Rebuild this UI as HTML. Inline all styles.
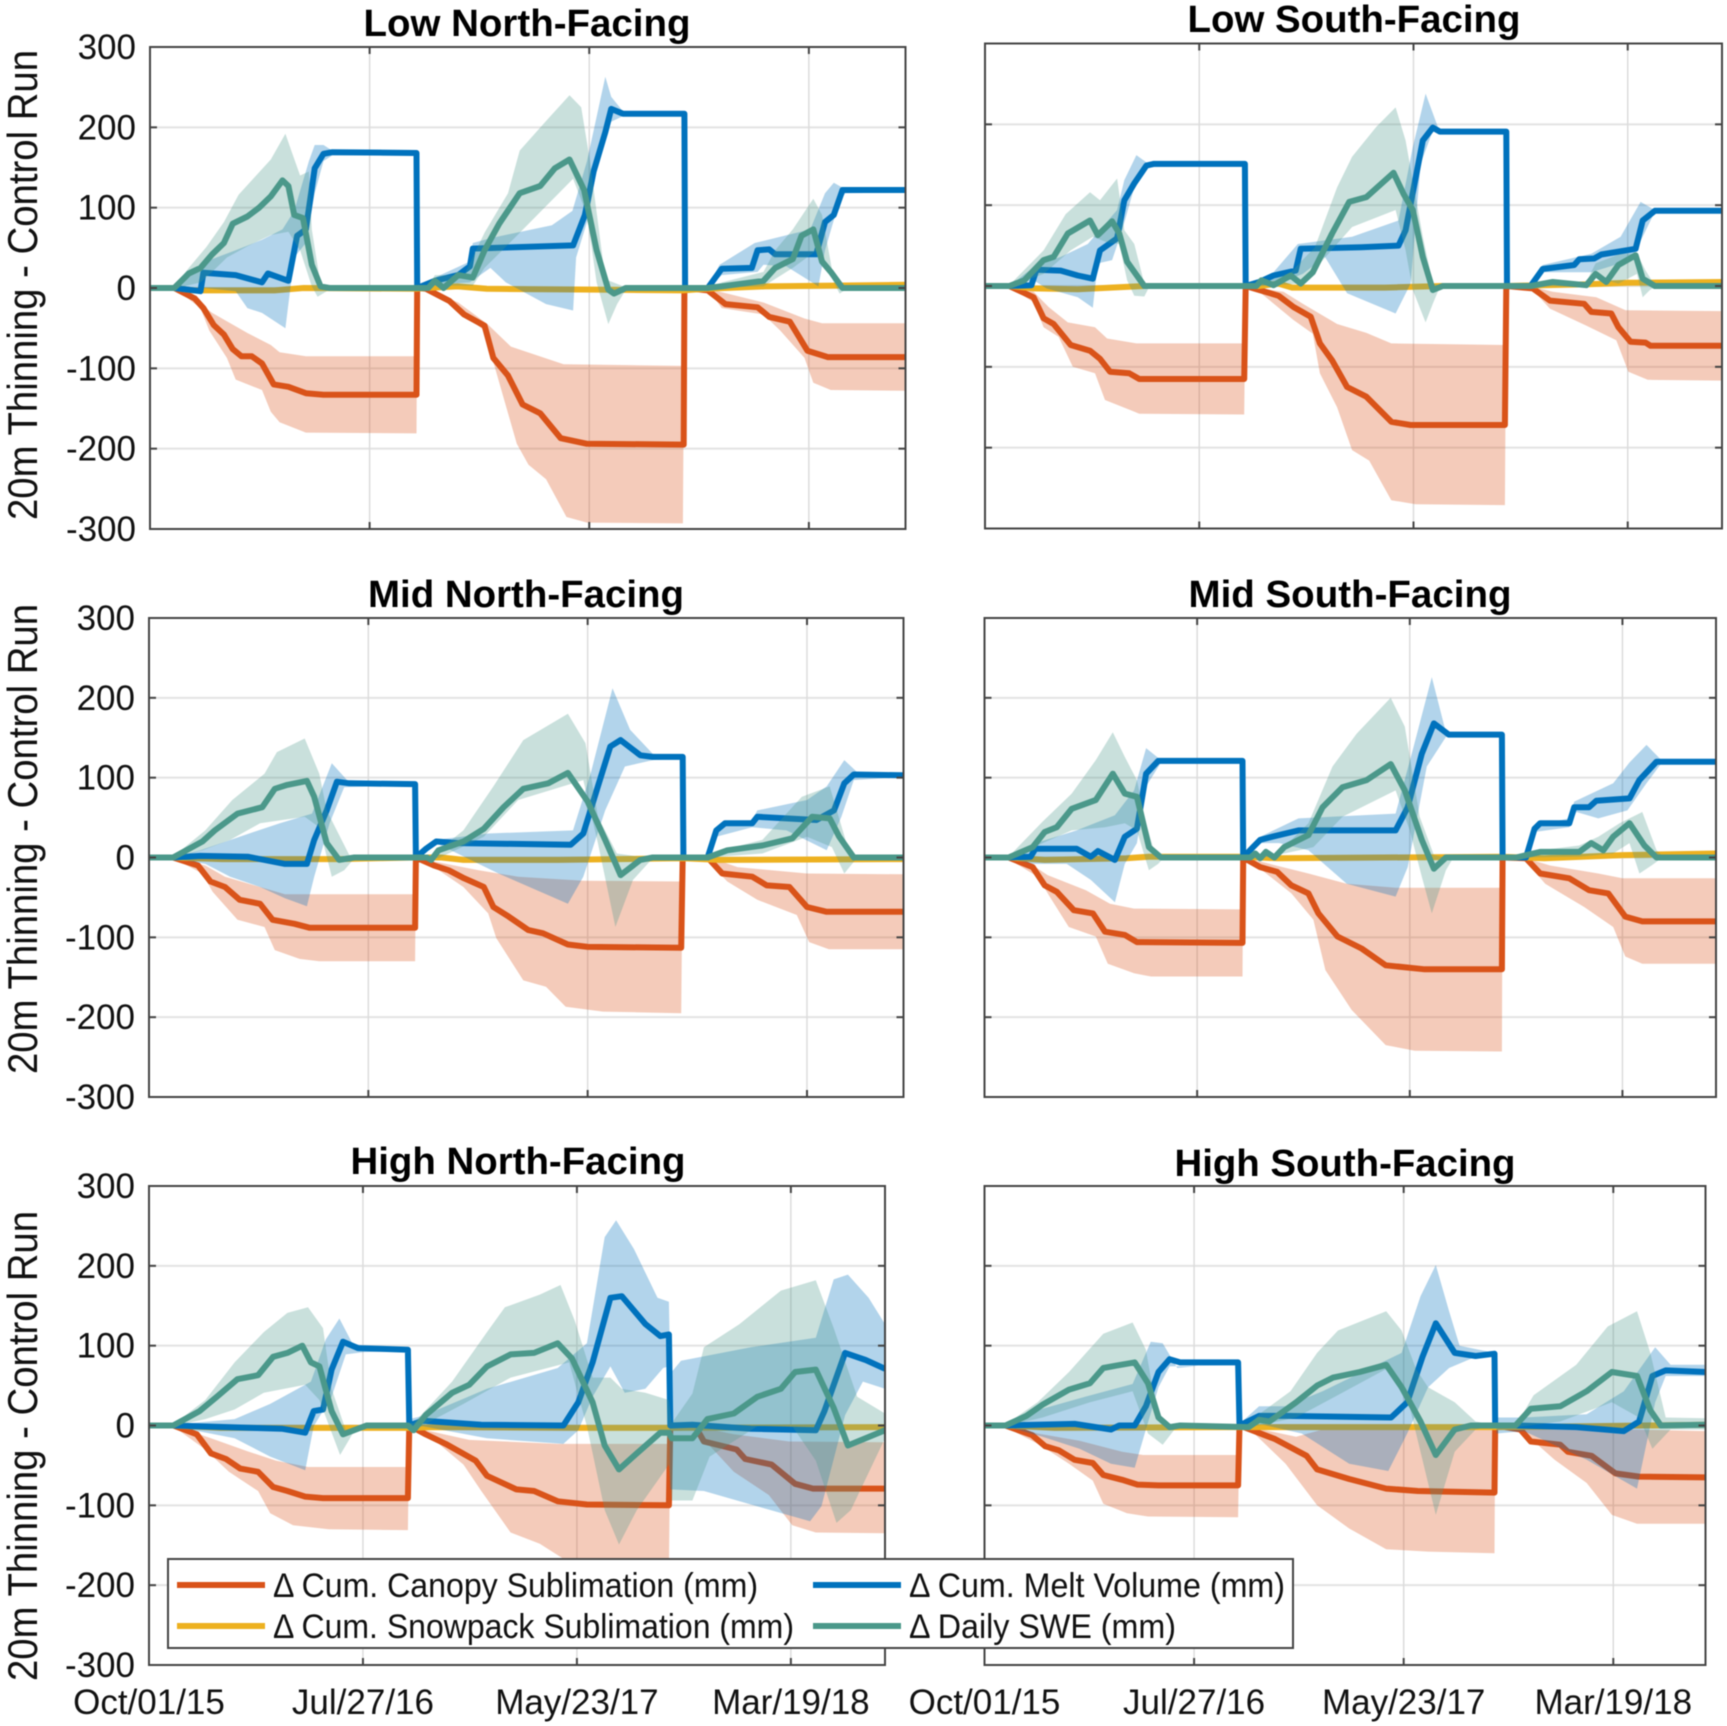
<!DOCTYPE html>
<html lang="en">
<head>
<meta charset="utf-8">
<title>20m Thinning minus Control Run</title>
<style>
html,body{margin:0;padding:0;background:#fff;}
svg{display:block;font-family:"Liberation Sans",sans-serif;filter:blur(0.5px);}
</style>
</head>
<body>
<svg id="figure" xmlns="http://www.w3.org/2000/svg" width="1727" height="1726" viewBox="0 0 1727 1726">
<rect x="0" y="0" width="1727" height="1726" fill="#ffffff"/>
<defs id="clip-defs"></defs>
<g id="panels"></g>
<g>
<rect x="168" y="1559" width="1125" height="89" fill="#ffffff" stroke="#444444" stroke-width="2"/>
<line x1="177" y1="1585" x2="265" y2="1585" stroke="#D95319" stroke-width="6"/>
<line x1="177" y1="1626" x2="265" y2="1626" stroke="#EDB120" stroke-width="6"/>
<line x1="813" y1="1585" x2="901" y2="1585" stroke="#0072BD" stroke-width="6"/>
<line x1="813" y1="1626" x2="901" y2="1626" stroke="#4B988A" stroke-width="6"/>
<text x="273" y="1597" font-size="34" textLength="485" lengthAdjust="spacingAndGlyphs" fill="#111">Δ Cum. Canopy Sublimation (mm)</text>
<text x="273" y="1638" font-size="34" textLength="521" lengthAdjust="spacingAndGlyphs" fill="#111">Δ Cum. Snowpack Sublimation (mm)</text>
<text x="909" y="1597" font-size="34" textLength="376" lengthAdjust="spacingAndGlyphs" fill="#111">Δ Cum. Melt Volume (mm)</text>
<text x="909" y="1638" font-size="34" textLength="267" lengthAdjust="spacingAndGlyphs" fill="#111">Δ Daily SWE (mm)</text>
</g>
</svg>
<script>
// Axis ticks
const yTickValues = [-300, -200, -100, 0, 100, 200, 300];
const xTickDays = [0, 300, 600, 900];
const xTickLabels = ['Oct/01/15', 'Jul/27/16', 'May/23/17', 'Mar/19/18'];
const yAxisLabel = '20m Thinning - Control Run';
const xDomainDays = 1032;

// Series values: flat day,value lists (days since Oct 1 2015, mm)
// --- Low North-Facing ---
const lowNorthCanopy = [0,0, 33,0, 61,-13, 73,-25, 87,-46, 101,-58, 113,-76, 125,-85, 139,-85, 153,-94, 169,-120, 189,-123, 213,-131, 237,-133, 364,-133, 365,0, 377,-1, 409,-16, 429,-33, 457,-47, 469,-87, 489,-109, 509,-145, 533,-156, 561,-187, 597,-194, 729,-195, 730,0, 762,-3, 786,-20, 830,-24, 846,-36, 874,-42, 898,-78, 926,-86, 1032,-86];
const lowNorthCanopyHi = [33,0, 69,-20, 85,-31, 133,-56, 165,-71, 177,-80, 213,-85, 364,-85, 365,0, 377,-1, 421,-18, 461,-45, 493,-73, 565,-95, 728,-97, 730,0, 762,-1, 838,-18, 894,-38, 918,-44, 1032,-44];
const lowNorthCanopyLo = [33,0, 69,-25, 81,-53, 105,-87, 117,-114, 153,-127, 165,-154, 177,-167, 213,-180, 364,-181, 365,0, 377,-3, 409,-20, 457,-53, 473,-105, 501,-194, 517,-220, 541,-238, 569,-285, 597,-292, 728,-293, 730,0, 762,-1, 781,-25, 838,-33, 861,-53, 894,-87, 906,-118, 930,-127, 1032,-128];
const lowNorthSnow = [0,0, 33,0, 60,-3, 170,-3, 210,0, 364,-1, 377,0, 420,2, 460,-1, 610,-2, 728,-3, 760,-1, 840,2, 1032,4];
const lowNorthMelt = [0,0, 33,0, 69,-4, 73,19, 117,16, 153,7, 161,18, 189,9, 201,65, 213,73, 225,149, 237,167, 249,169, 364,168, 365,0, 389,9, 421,16, 437,27, 441,49, 578,53, 594,91, 606,145, 622,194, 630,223, 646,217, 730,217, 731,0, 762,0, 781,24, 822,25, 830,47, 846,48, 854,42, 910,42, 922,82, 934,91, 946,122, 1032,122];
const lowNorthMeltHi = [33,0, 73,27, 85,36, 117,47, 153,60, 181,73, 197,96, 217,158, 225,178, 237,178, 249,171, 364,169, 365,0, 389,13, 437,33, 441,56, 465,62, 501,69, 549,78, 577,96, 597,158, 622,263, 630,238, 646,220, 730,219, 731,0, 762,2, 778,29, 826,56, 902,73, 922,118, 934,131, 946,125, 1032,123];
const lowNorthMeltLo = [33,0, 73,0, 117,-4, 133,-25, 153,-31, 185,-50, 197,38, 213,56, 225,118, 237,158, 249,165, 364,166, 365,0, 389,4, 437,7, 465,25, 486,7, 541,-20, 578,-28, 582,38, 597,82, 610,145, 630,207, 646,214, 730,214, 731,0, 762,-1, 781,16, 830,20, 838,29, 869,27, 913,2, 922,47, 942,109, 950,118, 1032,119];
const lowNorthSwe = [0,0, 33,0, 53,18, 69,25, 85,42, 101,56, 113,80, 133,89, 149,100, 165,114, 181,134, 189,127, 197,91, 209,87, 221,29, 233,2, 245,0, 380,0, 389,9, 401,0, 421,16, 441,13, 457,47, 477,80, 505,118, 533,127, 553,149, 573,160, 593,122, 610,47, 626,-2, 634,-7, 650,0, 760,0, 781,2, 838,9, 854,25, 878,36, 890,65, 906,73, 918,33, 930,20, 946,0, 1032,0];
const lowNorthSweHi = [33,2, 53,25, 77,51, 101,82, 121,116, 141,136, 165,160, 185,192, 193,171, 205,140, 217,145, 221,73, 233,4, 245,0, 380,0, 389,16, 429,16, 457,69, 489,118, 505,171, 545,212, 573,240, 589,225, 601,158, 622,11, 650,1, 760,0, 781,7, 838,20, 854,47, 878,73, 906,111, 918,91, 934,11, 946,2, 1032,0];
const lowNorthSweLo = [33,-1, 69,7, 85,20, 105,38, 133,52, 165,66, 189,70, 205,47, 221,2, 229,-11, 245,-2, 380,0, 389,3, 441,3, 457,25, 501,65, 578,136, 597,91, 610,7, 626,-45, 638,-20, 650,-2, 760,0, 838,2, 878,25, 911,47, 927,20, 942,-7, 950,-2, 1032,0];

// --- Low South-Facing ---
const lowSouthCanopy = [0,0, 34,0, 68,-14, 82,-40, 96,-47, 120,-73, 147,-80, 161,-90, 175,-106, 202,-108, 216,-115, 363,-115, 365,0, 384,-5, 411,-12, 432,-26, 456,-38, 469,-71, 486,-92, 507,-125, 534,-137, 569,-168, 596,-172, 728,-172, 730,0, 767,-3, 791,-18, 839,-22, 849,-32, 877,-34, 887,-51, 904,-69, 925,-70, 932,-74, 1034,-74];
const lowSouthCanopyHi = [34,0, 68,-7, 89,-26, 116,-45, 154,-51, 171,-65, 212,-71, 363,-71, 365,0, 384,-3, 418,-7, 445,-22, 493,-47, 534,-58, 569,-71, 728,-73, 730,0, 767,-1, 795,-7, 856,-14, 897,-30, 1034,-31];
const lowSouthCanopyLo = [34,-1, 68,-20, 82,-51, 103,-63, 123,-100, 154,-108, 168,-141, 205,-154, 216,-158, 363,-159, 365,0, 384,-7, 432,-42, 459,-59, 469,-108, 493,-150, 514,-203, 538,-216, 569,-265, 603,-270, 728,-271, 730,0, 767,-5, 791,-28, 842,-49, 884,-67, 901,-106, 928,-116, 1034,-117];
const lowSouthSnow = [0,0, 34,0, 68,-3, 130,-4, 223,0, 364,0, 384,0, 411,3, 430,-2, 560,-2, 640,0, 730,0, 780,1, 840,2, 900,4, 1034,5];
const lowSouthMelt = [0,0, 34,0, 65,1, 72,20, 106,19, 130,13, 151,9, 161,44, 185,59, 195,106, 209,127, 226,149, 236,151, 364,151, 365,0, 384,5, 404,13, 435,19, 442,46, 527,48, 579,50, 589,69, 613,180, 627,196, 637,191, 730,191, 731,0, 764,0, 781,21, 825,26, 832,33, 853,34, 863,39, 911,46, 921,81, 938,93, 1034,93];
const lowSouthMeltHi = [34,0, 72,26, 106,36, 144,52, 185,94, 195,131, 212,162, 229,151, 364,152, 365,0, 404,17, 438,52, 514,61, 579,81, 599,172, 617,238, 634,197, 641,192, 730,192, 731,0, 764,2, 781,26, 849,40, 890,61, 918,104, 938,94, 1034,94];
const lowSouthMeltLo = [34,-1, 68,7, 86,-3, 130,-14, 151,-27, 158,28, 178,32, 192,69, 209,122, 226,147, 364,149, 365,0, 404,1, 445,15, 476,36, 507,-9, 575,-34, 596,3, 610,151, 627,192, 641,189, 730,189, 731,0, 764,-1, 781,17, 849,17, 904,32, 921,61, 938,92, 1034,92];
const lowSouthSwe = [0,0, 34,0, 55,7, 82,32, 96,36, 116,65, 147,81, 158,63, 178,80, 188,65, 199,30, 223,0, 380,0, 387,7, 404,1, 428,13, 442,3, 459,17, 486,65, 510,104, 534,110, 572,140, 586,114, 599,94, 613,36, 627,-5, 641,0, 764,0, 795,5, 842,1, 855,15, 870,5, 887,26, 911,38, 921,9, 938,0, 1034,0];
const lowSouthSweHi = [34,1, 82,44, 113,89, 147,116, 161,106, 185,133, 195,69, 209,52, 223,3, 230,0, 380,0, 387,3, 428,17, 462,48, 493,122, 514,160, 548,197, 575,221, 589,180, 613,61, 627,3, 641,0, 764,0, 795,7, 842,5, 855,28, 890,40, 913,40, 925,19, 938,1, 1034,0];
const lowSouthSweLo = [34,-1, 82,15, 120,44, 151,61, 171,54, 188,52, 199,7, 209,-12, 223,-13, 230,-1, 380,0, 445,3, 473,32, 514,73, 575,94, 589,44, 599,-5, 617,-45, 627,-22, 637,-1, 764,0, 842,-1, 855,11, 887,3, 913,15, 921,-14, 931,-5, 940,0, 1034,0];

// --- Mid North-Facing ---
const midNorthCanopy = [0,0, 33,0, 67,-10, 84,-30, 104,-37, 124,-53, 152,-58, 169,-78, 199,-83, 220,-88, 364,-88, 365,0, 390,-10, 410,-16, 431,-26, 458,-37, 471,-62, 492,-74, 519,-91, 539,-95, 573,-109, 600,-112, 728,-113, 730,0, 764,0, 784,-20, 825,-24, 845,-35, 876,-37, 900,-62, 927,-68, 1032,-68];
const midNorthCanopyHi = [33,0, 77,-10, 104,-24, 152,-37, 186,-46, 364,-46, 365,0, 390,-5, 451,-16, 505,-24, 594,-29, 728,-30, 730,0, 764,1, 805,-12, 900,-20, 1032,-21];
const midNorthCanopyLo = [33,-1, 73,-20, 87,-43, 121,-78, 158,-87, 172,-116, 206,-127, 233,-130, 364,-130, 365,0, 390,-12, 430,-37, 464,-70, 475,-101, 512,-154, 543,-162, 570,-187, 621,-193, 728,-195, 730,0, 764,-5, 791,-30, 832,-53, 886,-72, 903,-106, 930,-115, 1032,-115];
const midNorthSnow = [0,0, 33,0, 100,-2, 260,-2, 364,0, 400,0, 430,-3, 560,-3, 730,-1, 780,-3, 1032,-2];
const midNorthMelt = [0,0, 33,0, 70,2, 135,1, 186,-8, 216,-8, 226,22, 243,59, 257,95, 274,93, 364,92, 365,0, 379,11, 393,20, 424,18, 577,16, 594,30, 614,89, 631,139, 645,147, 672,128, 689,126, 730,126, 731,0, 764,0, 776,34, 788,43, 825,43, 832,51, 913,47, 937,59, 951,93, 964,104, 1032,103];
const midNorthMeltHi = [33,0, 70,9, 124,26, 179,43, 223,55, 250,118, 271,97, 364,93, 365,0, 379,15, 393,22, 464,30, 580,34, 604,105, 634,212, 658,160, 689,130, 730,127, 731,0, 764,1, 776,38, 825,47, 832,59, 900,72, 927,89, 951,122, 971,105, 1032,105];
const midNorthMeltLo = [33,-1, 77,-8, 111,-24, 152,-37, 186,-51, 216,-61, 226,-24, 247,43, 267,88, 364,91, 365,0, 379,7, 393,18, 451,-8, 478,-20, 573,-58, 594,-24, 624,59, 651,114, 689,122, 730,124, 731,0, 764,-1, 776,26, 825,38, 872,34, 927,9, 947,51, 964,97, 1032,101];
const midNorthSwe = [0,0, 33,0, 73,20, 90,34, 121,55, 155,63, 172,86, 189,91, 216,96, 226,76, 243,18, 260,-3, 281,0, 380,0, 386,-3, 396,9, 430,20, 458,36, 485,63, 512,86, 546,93, 573,106, 600,70, 624,22, 645,-22, 672,-3, 689,0, 764,0, 791,9, 839,15, 880,24, 907,51, 931,49, 944,26, 964,0, 1032,0];
const midNorthSweHi = [33,1, 77,34, 114,72, 158,105, 175,132, 213,149, 233,105, 243,59, 274,3, 285,0, 380,0, 396,9, 430,34, 471,89, 512,147, 573,180, 597,143, 614,51, 640,5, 672,1, 764,0, 791,11, 839,22, 893,76, 931,89, 954,18, 968,1, 1032,0];
const midNorthSweLo = [33,-1, 73,9, 111,22, 152,43, 213,51, 233,38, 250,-24, 267,-16, 281,-1, 380,0, 396,-1, 458,26, 505,72, 594,97, 614,18, 638,-87, 662,-28, 689,-1, 764,0, 839,5, 900,26, 934,13, 951,-20, 968,-1, 1032,0];

// --- Mid South-Facing ---
const midSouthCanopy = [0,0, 34,0, 68,-12, 85,-35, 102,-43, 126,-66, 153,-70, 170,-93, 198,-97, 215,-106, 364,-107, 365,0, 389,-12, 413,-18, 433,-35, 457,-45, 471,-70, 498,-99, 532,-114, 566,-135, 621,-140, 730,-140, 731,0, 764,-1, 784,-20, 825,-26, 853,-41, 880,-45, 904,-74, 928,-80, 1033,-80];
const midSouthCanopyHi = [34,0, 72,-12, 89,-22, 143,-41, 177,-58, 211,-64, 364,-65, 365,0, 389,-5, 457,-20, 511,-33, 580,-38, 729,-38, 731,0, 764,-1, 798,-10, 866,-20, 900,-26, 1033,-26];
const midSouthCanopyLo = [34,-2, 75,-24, 92,-49, 119,-87, 157,-99, 174,-133, 211,-145, 235,-149, 364,-149, 365,0, 389,-14, 433,-45, 464,-78, 481,-141, 518,-191, 566,-235, 607,-242, 730,-243, 731,0, 764,-5, 791,-33, 846,-62, 887,-87, 904,-124, 928,-133, 1033,-133];
const midSouthSnow = [0,0, 34,0, 85,-3, 200,-1, 232,1, 365,1, 413,-1, 730,1, 790,-1, 900,3, 1033,5];
const midSouthMelt = [0,0, 34,0, 65,1, 72,11, 130,11, 150,1, 160,8, 184,-3, 198,26, 215,36, 228,105, 245,121, 364,121, 365,0, 379,13, 389,22, 406,26, 443,34, 580,34, 597,63, 617,130, 634,168, 655,154, 730,154, 731,0, 764,0, 776,36, 784,43, 825,43, 832,63, 853,63, 863,71, 910,74, 924,97, 948,120, 1033,120];
const midSouthMeltHi = [34,0, 72,18, 130,34, 184,53, 211,84, 228,137, 249,122, 364,122, 365,0, 389,26, 443,49, 580,55, 604,134, 631,226, 651,157, 730,155, 731,0, 764,1, 776,40, 825,49, 832,70, 887,93, 910,119, 934,141, 955,122, 1033,121];
const midSouthMeltLo = [34,-1, 68,-8, 116,-8, 150,-28, 184,-56, 198,-8, 215,18, 228,89, 249,119, 364,120, 365,0, 389,18, 416,18, 457,9, 511,-33, 580,-49, 597,-12, 624,114, 651,151, 730,152, 731,0, 764,-1, 776,32, 825,38, 835,57, 866,49, 907,59, 934,93, 955,118, 1033,119];
const midSouthSwe = [0,0, 34,0, 68,13, 85,32, 102,38, 123,61, 157,72, 181,105, 198,80, 215,76, 232,13, 249,0, 375,0, 382,5, 389,-1, 397,7, 409,0, 423,13, 457,28, 477,63, 505,88, 539,97, 573,117, 593,84, 617,22, 634,-14, 651,0, 750,0, 784,7, 839,7, 856,18, 873,9, 887,26, 910,43, 931,15, 948,0, 1033,0];
const midSouthSweHi = [34,1, 82,45, 123,80, 157,122, 181,157, 198,126, 215,97, 228,43, 241,3, 249,0, 375,0, 409,1, 457,43, 491,114, 525,155, 573,200, 593,164, 614,51, 634,3, 651,0, 750,0, 784,9, 839,15, 866,26, 896,43, 928,57, 948,9, 958,1, 1033,0];
const midSouthSweLo = [34,-1, 82,18, 123,34, 170,38, 198,43, 215,34, 232,-16, 245,-8, 252,-1, 375,0, 423,5, 464,13, 505,51, 580,84, 600,34, 617,-24, 631,-70, 651,-16, 661,-1, 750,0, 839,1, 887,5, 910,18, 924,-20, 941,-10, 955,-1, 1033,0];

// --- High North-Facing ---
const highNorthCanopy = [0,0, 34,0, 67,-11, 87,-35, 108,-42, 128,-54, 153,-58, 174,-77, 194,-82, 219,-89, 244,-91, 363,-91, 365,0, 388,-11, 416,-23, 458,-44, 474,-63, 515,-80, 540,-82, 573,-95, 614,-99, 729,-100, 731,0, 766,-1, 778,-20, 824,-30, 836,-42, 873,-49, 906,-73, 931,-79, 1032,-79];
const highNorthCanopyHi = [34,0, 87,-16, 137,-32, 178,-44, 223,-52, 363,-52, 365,0, 388,-6, 449,-18, 573,-23, 729,-23, 731,0, 766,-1, 820,-11, 898,-20, 1032,-21];
const highNorthCanopyLo = [34,-1, 79,-30, 112,-58, 153,-82, 170,-110, 202,-125, 252,-130, 363,-131, 365,0, 388,-9, 441,-49, 466,-82, 507,-134, 548,-148, 581,-167, 614,-180, 729,-185, 731,0, 766,-6, 820,-58, 869,-87, 902,-125, 935,-134, 1032,-135];
const highNorthSnow = [0,0, 34,0, 100,-3, 364,-3, 400,-2, 600,-3, 730,-3, 1032,-2];
const highNorthMelt = [0,0, 34,0, 186,-4, 219,-9, 231,18, 244,20, 256,70, 272,105, 293,97, 363,95, 365,0, 384,6, 466,1, 581,0, 602,29, 622,79, 647,160, 663,162, 696,127, 717,112, 729,114, 731,0, 762,1, 844,-4, 935,-6, 947,18, 976,91, 1005,82, 1032,71];
const highNorthMeltHi = [34,1, 120,8, 170,27, 227,55, 248,108, 267,134, 285,103, 318,96, 363,96, 365,8, 384,12, 474,46, 573,72, 614,103, 639,236, 655,257, 680,221, 713,160, 729,155, 731,65, 746,81, 844,98, 935,110, 960,183, 980,189, 1009,160, 1032,127];
const highNorthMeltLo = [34,-1, 120,-16, 170,-39, 219,-56, 231,-1, 256,36, 276,89, 301,92, 363,93, 365,-2, 384,-1, 474,-16, 581,-23, 602,-6, 622,36, 647,74, 667,41, 696,46, 721,72, 729,74, 731,-80, 778,-82, 844,-99, 927,-120, 943,-101, 976,13, 1001,55, 1032,46];
const highNorthSwe = [0,0, 34,0, 71,18, 95,36, 124,58, 153,63, 174,86, 194,91, 215,100, 227,79, 239,74, 256,18, 272,-11, 305,0, 363,0, 371,-6, 388,13, 425,41, 449,51, 474,74, 507,89, 540,91, 573,103, 593,84, 622,29, 639,-25, 659,-55, 684,-35, 717,-9, 729,-9, 733,-16, 762,-16, 783,8, 820,15, 853,36, 886,46, 906,67, 935,70, 960,22, 980,-25, 1032,-6];
const highNorthSweHi = [34,1, 79,32, 120,79, 161,117, 194,141, 223,148, 244,122, 256,46, 276,-6, 305,1, 363,3, 371,3, 425,55, 474,117, 499,148, 548,164, 577,176, 597,131, 622,60, 647,60, 663,46, 696,41, 729,32, 733,3, 762,40, 778,98, 828,127, 886,169, 935,182, 960,122, 993,36, 1032,15];
const highNorthSweLo = [34,-1, 79,8, 120,20, 161,41, 219,51, 239,32, 268,-37, 285,-11, 305,-1, 363,-2, 371,-6, 441,27, 507,60, 589,79, 614,-1, 639,-106, 659,-149, 684,-106, 729,-49, 733,-94, 762,-94, 786,-39, 853,-1, 902,-1, 935,-44, 964,-122, 984,-106, 1032,-16];

// --- High South-Facing ---
const highSouthCanopy = [0,0, 30,0, 68,-12, 87,-26, 106,-31, 129,-43, 155,-47, 170,-62, 197,-68, 219,-74, 249,-75, 363,-75, 365,0, 386,-7, 416,-17, 461,-38, 476,-55, 522,-67, 544,-72, 575,-79, 620,-82, 730,-84, 731,0, 767,-5, 782,-20, 824,-24, 835,-33, 869,-38, 903,-60, 937,-64, 1033,-65];
const highSouthCanopyHi = [30,0, 76,-10, 136,-19, 197,-33, 227,-37, 363,-37, 365,0, 386,-3, 446,-14, 484,-5, 730,-5, 731,0, 767,-2, 1033,-7];
const highSouthCanopyLo = [30,-2, 79,-24, 121,-48, 155,-69, 170,-98, 204,-110, 234,-114, 363,-115, 365,0, 386,-10, 431,-48, 476,-100, 522,-129, 575,-155, 635,-158, 730,-160, 731,0, 767,-5, 816,-43, 862,-72, 898,-112, 934,-123, 1033,-123];
const highSouthSnow = [0,0, 30,0, 100,-3, 364,-2, 500,-2, 730,-2, 860,-1, 1033,1];
const highSouthMelt = [0,0, 30,0, 129,2, 181,-5, 193,0, 215,0, 231,24, 249,67, 265,83, 280,79, 363,79, 365,0, 393,12, 431,12, 582,10, 605,29, 627,86, 646,128, 673,91, 703,87, 730,90, 731,0, 762,0, 847,-2, 915,-7, 937,5, 956,62, 975,69, 1033,67];
const highSouthMeltHi = [30,1, 83,21, 144,36, 212,52, 238,105, 255,103, 276,72, 363,80, 365,2, 393,24, 431,24, 484,43, 597,91, 624,162, 646,201, 665,143, 680,100, 730,91, 733,10, 772,10, 862,14, 915,43, 960,98, 982,76, 1033,76];
const highSouthMeltLo = [30,-1, 83,-14, 136,-29, 181,-48, 215,-53, 231,-5, 249,48, 265,74, 363,76, 365,-2, 393,2, 454,-10, 522,-48, 578,-57, 605,-10, 635,48, 665,72, 703,86, 730,86, 733,-10, 772,-7, 862,-43, 934,-79, 960,29, 975,62, 1033,62];
const highSouthSwe = [0,0, 30,0, 60,12, 83,26, 121,45, 151,53, 170,72, 189,75, 215,79, 234,53, 249,10, 265,-2, 280,0, 378,-2, 393,7, 408,5, 446,29, 476,50, 499,60, 537,67, 575,76, 597,48, 624,5, 646,-37, 673,-5, 696,0, 760,0, 782,21, 824,24, 862,43, 898,67, 934,62, 953,19, 968,0, 1033,1];
const highSouthSweHi = [30,1, 76,29, 121,67, 170,115, 212,129, 231,95, 249,5, 262,0, 378,0, 393,14, 438,43, 476,91, 506,119, 575,143, 597,119, 618,70, 635,48, 673,29, 703,5, 730,1, 762,2, 786,38, 847,76, 892,124, 934,143, 953,91, 975,10, 1033,9];
const highSouthSweLo = [30,-1, 83,10, 151,29, 212,43, 234,-10, 255,-24, 272,-5, 285,0, 393,0, 446,10, 476,24, 582,74, 605,36, 624,-33, 646,-112, 673,-33, 703,-5, 730,0, 762,-2, 824,5, 898,29, 937,10, 956,-29, 982,-5, 1033,-5];

const seriesStyles = {
  canopy: '#D95319',
  snow: '#EDB120',
  melt: '#0072BD',
  swe: '#4B988A'
};

const panels = [
  {key:'low-north', title:'Low North-Facing', left:150, right:905.5, top:47, bottom:529, titleX:527, titleY:36, titleW:327, yLabels:true, xLabels:false, yLabelY:285,
   canopy:lowNorthCanopy, canopyHi:lowNorthCanopyHi, canopyLo:lowNorthCanopyLo, snow:lowNorthSnow, melt:lowNorthMelt, meltHi:lowNorthMeltHi, meltLo:lowNorthMeltLo, swe:lowNorthSwe, sweHi:lowNorthSweHi, sweLo:lowNorthSweLo},
  {key:'low-south', title:'Low South-Facing', left:985, right:1722, top:43.5, bottom:528.5, titleX:1354, titleY:32, titleW:333, yLabels:false, xLabels:false,
   canopy:lowSouthCanopy, canopyHi:lowSouthCanopyHi, canopyLo:lowSouthCanopyLo, snow:lowSouthSnow, melt:lowSouthMelt, meltHi:lowSouthMeltHi, meltLo:lowSouthMeltLo, swe:lowSouthSwe, sweHi:lowSouthSweHi, sweLo:lowSouthSweLo},
  {key:'mid-north', title:'Mid North-Facing', left:149, right:903.5, top:618, bottom:1097, titleX:526, titleY:607, titleW:316, yLabels:true, xLabels:false, yLabelY:839,
   canopy:midNorthCanopy, canopyHi:midNorthCanopyHi, canopyLo:midNorthCanopyLo, snow:midNorthSnow, melt:midNorthMelt, meltHi:midNorthMeltHi, meltLo:midNorthMeltLo, swe:midNorthSwe, sweHi:midNorthSweHi, sweLo:midNorthSweLo},
  {key:'mid-south', title:'Mid South-Facing', left:984.5, right:1716, top:618, bottom:1097, titleX:1350, titleY:607, titleW:323, yLabels:false, xLabels:false,
   canopy:midSouthCanopy, canopyHi:midSouthCanopyHi, canopyLo:midSouthCanopyLo, snow:midSouthSnow, melt:midSouthMelt, meltHi:midSouthMeltHi, meltLo:midSouthMeltLo, swe:midSouthSwe, sweHi:midSouthSweHi, sweLo:midSouthSweLo},
  {key:'high-north', title:'High North-Facing', left:149, right:885, top:1186, bottom:1665, titleX:518, titleY:1174, titleW:335, yLabels:true, xLabels:true, yLabelY:1446,
   canopy:highNorthCanopy, canopyHi:highNorthCanopyHi, canopyLo:highNorthCanopyLo, snow:highNorthSnow, melt:highNorthMelt, meltHi:highNorthMeltHi, meltLo:highNorthMeltLo, swe:highNorthSwe, sweHi:highNorthSweHi, sweLo:highNorthSweLo},
  {key:'high-south', title:'High South-Facing', left:984.5, right:1705.5, top:1186, bottom:1665, titleX:1345, titleY:1176, titleW:341, yLabels:false, xLabels:true,
   canopy:highSouthCanopy, canopyHi:highSouthCanopyHi, canopyLo:highSouthCanopyLo, snow:highSouthSnow, melt:highSouthMelt, meltHi:highSouthMeltHi, meltLo:highSouthMeltLo, swe:highSouthSwe, sweHi:highSouthSweHi, sweLo:highSouthSweLo}
];

const NS = 'http://www.w3.org/2000/svg';
function mk(tag, attrs, parent) {
  const el = document.createElementNS(NS, tag);
  for (const k in attrs) el.setAttribute(k, attrs[k]);
  parent.appendChild(el);
  return el;
}
function toPairs(flat) {
  const out = [];
  for (let i = 0; i + 1 < flat.length; i += 2) out.push([flat[i], flat[i + 1]]);
  return out;
}
function xAxis(p) {
  return function (day) { return p.left + (day / xDomainDays) * (p.right - p.left); };
}
function yAxis(p) {
  return function (v) { return p.bottom - ((v + 300) / 600) * (p.bottom - p.top); };
}
function linePoints(flat, x, y) {
  return toPairs(flat).map(function (d) { return x(d[0]).toFixed(1) + ',' + y(d[1]).toFixed(1); }).join(' ');
}
function bandPoints(hi, lo, x, y) {
  const top = toPairs(hi);
  const bottom = toPairs(lo).reverse();
  return top.concat(bottom).map(function (d) { return x(d[0]).toFixed(1) + ',' + y(d[1]).toFixed(1); }).join(' ');
}

const root = document.getElementById('panels');
const defs = document.getElementById('clip-defs');

panels.forEach(function (p) {
  const x = xAxis(p);
  const y = yAxis(p);
  const g = mk('g', {}, root);
  
  

  const clip = mk('clipPath', {id: 'clip-' + p.key}, defs);
  mk('rect', {x: p.left, y: p.top, width: p.right - p.left, height: p.bottom - p.top}, clip);

  // grid
  const grid = mk('g', {}, g);
  
  
  yTickValues.forEach(function (v) {
    if (v === 300 || v === -300) return;
    const ln = mk('line', {x1: p.left, x2: p.right, y1: y(v), y2: y(v), stroke: '#e3e3e3', 'stroke-width': 2}, grid);
    
    
  });
  xTickDays.forEach(function (d) {
    if (d === 0) return;
    const ln = mk('line', {x1: x(d), x2: x(d), y1: p.top, y2: p.bottom, stroke: '#dcdcdc', 'stroke-width': 1.5}, grid);
    
    
  });

  // series
  const plot = mk('g', {'clip-path': 'url(#clip-' + p.key + ')'}, g);
  
  

  const canopyBand = mk('polygon', {points: bandPoints(p.canopyHi, p.canopyLo, x, y), fill: seriesStyles.canopy, 'fill-opacity': 0.3}, plot);
  
  
  const canopyLine = mk('polyline', {points: linePoints(p.canopy, x, y), fill: 'none', stroke: seriesStyles.canopy, 'stroke-width': 6, 'stroke-linejoin': 'round'}, plot);
  
  

  const snowLine = mk('polyline', {points: linePoints(p.snow, x, y), fill: 'none', stroke: seriesStyles.snow, 'stroke-width': 6, 'stroke-linejoin': 'round'}, plot);
  
  

  const meltBand = mk('polygon', {points: bandPoints(p.meltHi, p.meltLo, x, y), fill: seriesStyles.melt, 'fill-opacity': 0.3}, plot);
  
  
  const meltLine = mk('polyline', {points: linePoints(p.melt, x, y), fill: 'none', stroke: seriesStyles.melt, 'stroke-width': 6, 'stroke-linejoin': 'round'}, plot);
  
  

  const sweBand = mk('polygon', {points: bandPoints(p.sweHi, p.sweLo, x, y), fill: seriesStyles.swe, 'fill-opacity': 0.3}, plot);
  
  
  const sweLine = mk('polyline', {points: linePoints(p.swe, x, y), fill: 'none', stroke: seriesStyles.swe, 'stroke-width': 6, 'stroke-linejoin': 'round'}, plot);
  
  

  // ticks
  const ticks = mk('g', {stroke: '#444444', 'stroke-width': 2}, g);
  
  
  yTickValues.forEach(function (v) {
    mk('line', {x1: p.left, x2: p.left + 7, y1: y(v), y2: y(v)}, ticks);
    mk('line', {x1: p.right - 7, x2: p.right, y1: y(v), y2: y(v)}, ticks);
  });
  xTickDays.forEach(function (d) {
    mk('line', {x1: x(d), x2: x(d), y1: p.bottom - 7, y2: p.bottom}, ticks);
    mk('line', {x1: x(d), x2: x(d), y1: p.top, y2: p.top + 7}, ticks);
  });

  // frame
  const frame = mk('rect', {x: p.left, y: p.top, width: p.right - p.left, height: p.bottom - p.top, fill: 'none', stroke: '#444444', 'stroke-width': 2}, g);
  
  

  // title
  const title = mk('text', {x: p.titleX, y: p.titleY, 'font-size': 38, 'font-weight': 'bold', 'text-anchor': 'middle', textLength: p.titleW, lengthAdjust: 'spacingAndGlyphs', fill: '#000'}, g);
  title.textContent = p.title;
  
  

  // y tick labels and axis title
  if (p.yLabels) {
    yTickValues.forEach(function (v) {
      const t = mk('text', {x: p.left - 14, y: y(v) + 12, 'font-size': 35, 'text-anchor': 'end', fill: '#111'}, g);
      t.textContent = String(v);
      
      
    });
    const yl = mk('text', {x: 0, y: 0, transform: 'translate(37,' + p.yLabelY + ') rotate(-90)', 'font-size': 42, 'text-anchor': 'middle', textLength: 470, lengthAdjust: 'spacingAndGlyphs', fill: '#111'}, g);
    yl.textContent = yAxisLabel;
    
    
  }

  // x tick labels
  if (p.xLabels) {
    xTickDays.forEach(function (d, i) {
      const t = mk('text', {x: x(d), y: 1714, 'font-size': 35, 'text-anchor': 'middle', fill: '#111'}, g);
      t.textContent = xTickLabels[i];
      
      
    });
  }
});
</script>
</body>
</html>
